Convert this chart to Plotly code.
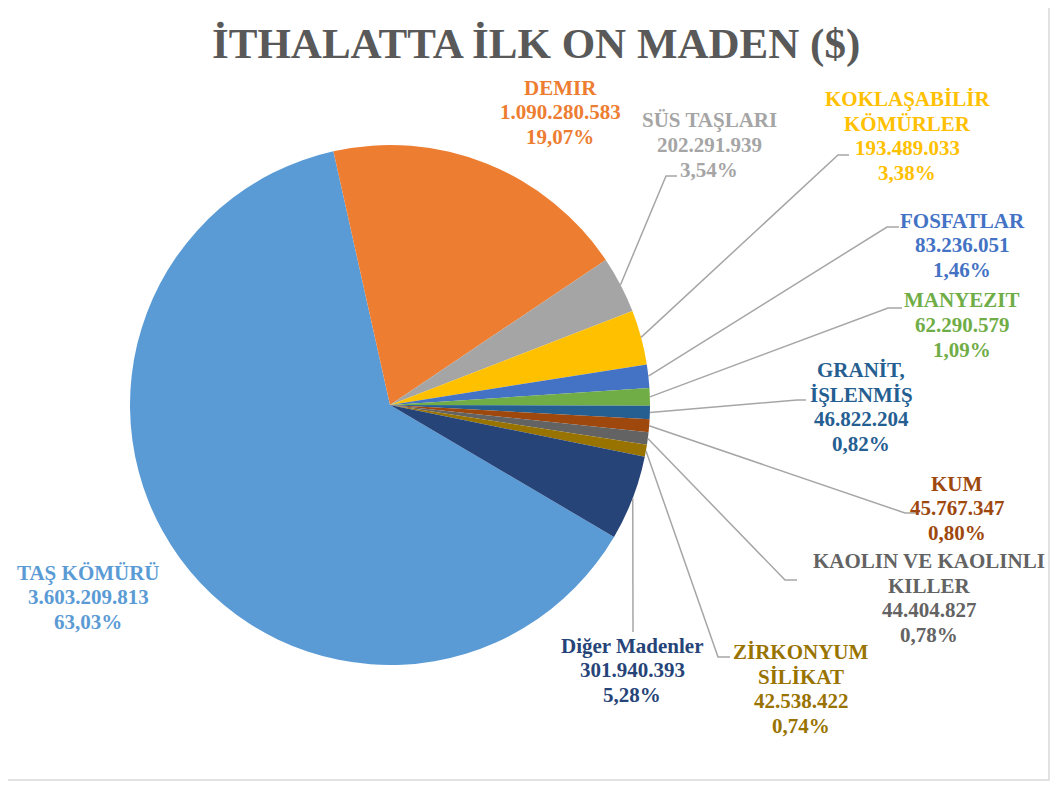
import math
import plotly.graph_objects as go

# ---- data ----
names = ["TAŞ KÖMÜRÜ", "DEMIR", "SÜS TAŞLARI", "KOKLAŞABİLİR<br>KÖMÜRLER", "FOSFATLAR",
         "MANYEZIT", "GRANİT,<br>İŞLENMİŞ", "KUM", "KAOLIN VE KAOLINLI<br>KILLER",
         "ZİRKONYUM<br>SİLİKAT", "Diğer Madenler"]
values = [3603209813, 1090280583, 202291939, 193489033, 83236051, 62290579,
          46822204, 45767347, 44404827, 42538422, 301940393]
colors = ["#5B9BD5", "#ED7D31", "#A5A5A5", "#FFC000", "#4472C4", "#70AD47",
          "#255E91", "#9E480E", "#636363", "#997300", "#264478"]
title_text = "İTHALATTA İLK ON MADEN ($)"

# ---- layout / style ----
OFF = 8                      # page body margin in the browser
W, H = 1059 - 2 * OFF, 789 - 2 * OFF
CX, CY, R = 390, 405, 260    # pie centre and radius in screen px
ROTATION = 120.5
FONT = "'Liberation Serif', 'DejaVu Serif', serif"
FS = 21
LINE_GAP = 24.5
# label block centres (screen px)
label_pos = [(88, 597), (560, 112), (709, 145), (907, 136), (962, 245), (962, 325),
             (861, 407), (957, 508), (929, 598), (801, 689), (632, 670)]
# leader line: None or list of (elbow, end) points in screen px
leaders = [None, None,
           [(666, 176), (677, 176)],
           [(838, 155), (849, 155)],
           [(887, 227), (899, 227)],
           [(888, 308), (902, 308)],
           [(797, 400), (806, 400)],
           [(905, 513), (917, 513)],
           [(785, 580), (797, 580)],
           [(718, 657), (730, 657)],
           [(633, 632)]]


def X(px):
    return (px - OFF) / W


def Y(py):
    return 1 - (py - OFF) / H


def fmt_int(v):
    return f"{v:,}".replace(",", ".")


total = sum(values)
pcts = [v / total * 100 for v in values]
pct_txt = [f"{p:.2f}".replace(".", ",") + "%" for p in pcts]

fig = go.Figure(go.Pie(
    labels=[n.replace("<br>", " ") for n in names],
    values=values,
    sort=False,
    direction="clockwise",
    rotation=ROTATION,
    marker=dict(colors=colors, line=dict(width=0)),
    textinfo="none",
    hoverinfo="label+value+percent",
    showlegend=False,
    domain=dict(x=[X(CX - R), X(CX + R)], y=[Y(CY + R), Y(CY - R)]),
))

annotations = [dict(text=f"<b>{title_text}</b>", x=X(535.5), y=Y(44), xref="paper", yref="paper",
                    xanchor="center", yanchor="middle", showarrow=False,
                    font=dict(family=FONT, size=43, color="#595959"))]
shapes = [dict(type="rect", xref="paper", yref="paper", x0=X(6.5), x1=X(1049), y0=Y(780), y1=Y(6.5),
               line=dict(color="#D9D9D9", width=1.5), fillcolor="rgba(0,0,0,0)", layer="below")]

cum = 0.0
for i, (name, v) in enumerate(zip(names, values)):
    frac = v / total
    mid = math.radians(ROTATION + 360 * (cum + frac / 2))
    cum += frac
    lines = name.split("<br>") + [fmt_int(v), pct_txt[i]]
    lx, ly = label_pos[i]
    n = len(lines)
    for k, t in enumerate(lines):
        yy = ly + (k - (n - 1) / 2) * LINE_GAP
        annotations.append(dict(text=f"<b>{t}</b>", x=X(lx), y=Y(yy), xref="paper", yref="paper",
                                xanchor="center", yanchor="middle", showarrow=False,
                                font=dict(family=FONT, size=FS, color=colors[i])))
    if leaders[i]:
        sx = CX + R * math.sin(mid)
        sy = CY - R * math.cos(mid)
        pts = [(sx, sy)] + leaders[i]
        path = "M " + " L ".join(f"{X(p[0])},{Y(p[1])}" for p in pts)
        shapes.append(dict(type="path", xref="paper", yref="paper", path=path,
                           line=dict(color="#A6A6A6", width=1.5)))

fig.update_layout(
    width=W, height=H,
    margin=dict(l=0, r=0, t=0, b=0),
    paper_bgcolor="white", plot_bgcolor="white",
    font=dict(family=FONT),
    annotations=annotations, shapes=shapes,
)

fig.write_html("out.html")
